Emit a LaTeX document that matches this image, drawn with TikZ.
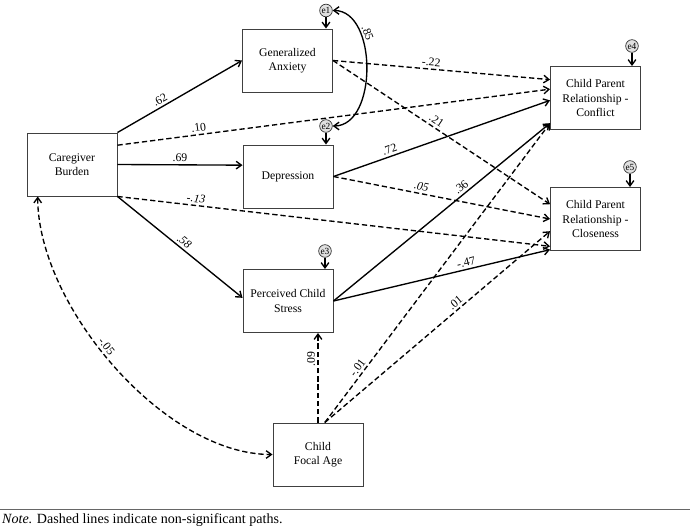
\documentclass[tikz,border=0pt]{standalone}
\usepackage{fontspec}
\setmainfont{Liberation Serif}
\usetikzlibrary{positioning,calc,arrows.meta}

\begin{document}
\begin{tikzpicture}[x=0.03cm, y=0.03cm, >={Straight Barb[length=4.5pt,width=6.5pt]}]
	\tikzstyle{box}=[draw=black!75, line width=0.8pt, minimum width=2.7cm, minimum height=1.89cm, align=center, inner sep=1pt, font=\fontsize{10}{12}\selectfont]
	\tikzstyle{err}=[circle, draw=black!80, line width=0.6pt, fill=black!12, minimum size=0.38cm, inner sep=0pt, font=\fontsize{8}{8}\selectfont]
	\tikzstyle{sig}=[->, line width=1.15pt]
	\tikzstyle{ns}=[->, line width=1.15pt, dash pattern=on 4.5pt off 2.5pt]
	\tikzstyle{lbl}=[sloped, above, inner sep=2pt, font=\fontsize{10}{10}\selectfont]

	\useasboundingbox (0,0) rectangle (690,-529);

	% boxes
	\node[box] (burden) at (72,-164.5) {Caregiver\\Burden};
	\node[box] (anx) at (287.5,-60.5) {Generalized\\Anxiety};
	\node[box] (dep) at (288,-176.5) {Depression};
	\node[box] (pcs) at (288,-301) {Perceived Child\\Stress};
	\node[box] (age) at (318,-454.5) {Child\\Focal Age};
	\node[box] (conf) at (595.5,-98) {Child Parent\\Relationship -\\Conflict};
	\node[box] (close) at (595.5,-219) {Child Parent\\Relationship -\\Closeness};

	% error terms
	\node[err] (e1) at (326,-10.5) {e1};
	\node[err] (e2) at (326,-126) {e2};
	\node[err] (e3) at (325,-251) {e3};
	\node[err] (e4) at (632,-46) {e4};
	\node[err] (e5) at (630,-167) {e5};

	\draw[sig] (e1) -- (e1 |- anx.north);
	\draw[sig] (e2) -- (e2 |- dep.north);
	\draw[sig] (e3) -- (e3 |- pcs.north);
	\draw[sig] (e4) -- (e4 |- conf.north);
	\draw[sig] (e5) -- (e5 |- close.north);
	\draw[sig, <->] (e1.east) to[out=0, in=0, looseness=1] node[lbl, pos=0.3] {.85} (e2.east);

	% paths
	\draw[sig] (burden.north east) -- node[lbl, pos=0.37] {.62} (anx.west);
	\draw[ns] (burden.23) -- node[lbl, pos=0.19] {.10} (conf.169);
	\draw[sig] (burden.east) -- node[lbl] {.69} (dep.166);
	\draw[ns] (burden.south east) -- node[lbl, pos=0.18] {\textit{-.13}} (close.211);
	\draw[sig] (burden.south east) -- node[lbl] {\textit{.58}} (pcs.176);
	\draw[ns] (anx.east) -- node[lbl, pos=0.45] {-.22} (conf.158);
	\draw[ns] (anx.east) -- node[lbl, pos=0.46] {.21} (close.162);
	\draw[sig] (dep.east) -- node[lbl, pos=0.27] {.72} (conf.183);
	\draw[ns] (dep.east) -- node[lbl, pos=0.4] {\textit{.05}} (close.west);
	\draw[sig] (pcs.east) -- node[lbl, pos=0.61] {.36} (conf.209);
	\draw[sig] (pcs.east) -- node[lbl, pos=0.62] {-.47} (close.214);
	\draw[ns] (age.north) -- node[lbl, pos=0.71] {.09} (age.north |- pcs.south);
	\draw[ns] (age.78) -- node[lbl, pos=0.17] {-.01} (conf.209);
	\draw[ns] (age.78) -- node[lbl, pos=0.6] {.01} (close.195);
	\draw[ns, <->] (burden.223) to[out=-90, in=180, looseness=0.8] node[lbl, pos=0.45] {-.05} (age.west);

	% note
	\draw[black!60, line width=0.6pt] (0,-509.5) -- (690,-509.5);
	\node[anchor=west, inner sep=0pt, font=\fontsize{12}{14}\selectfont] (note) at (2,-520) {\textit{Note.} Dashed lines indicate non-significant paths.};
\end{tikzpicture}
\end{document}
